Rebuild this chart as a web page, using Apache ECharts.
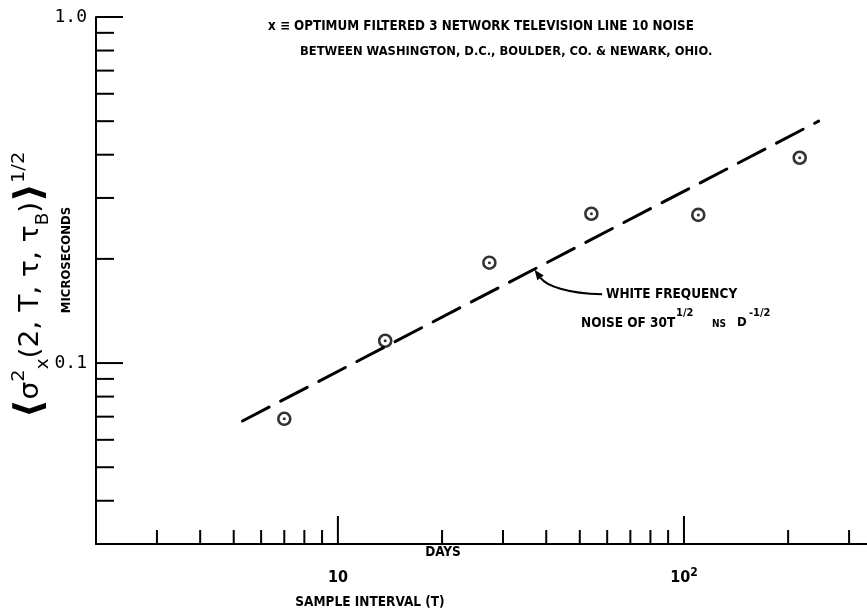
<!DOCTYPE html>
<html>
<head>
<meta charset="utf-8">
<title>Line 10 noise</title>
<script src="https://cdn.jsdelivr.net/npm/echarts@6/dist/echarts.min.js"></script>
</head>
<body style="margin:0;background:#fff;">
<div id="main" style="width:867px;height:613px;"></div>
<script>
// values (T in days, sigma in microseconds)
var measured = [[7.0, 0.069], [13.7, 0.116], [27.4, 0.195], [54, 0.270], [110, 0.268], [216, 0.392]];
var whiteNoise = [[5.3, 0.068], [245, 0.50]];

var X_MIN = 2, X_MAX = 338;
var Y_MIN = 0.03, Y_MAX = 1.0;

var xTicks = [3, 4, 5, 6, 7, 8, 9, 10, 20, 30, 40, 50, 60, 70, 80, 90, 100, 200, 300];
var xMajor = [10, 100];
var yTicks = [0.04, 0.05, 0.06, 0.07, 0.08, 0.09, 0.1, 0.2, 0.3, 0.4, 0.5, 0.6, 0.7, 0.8, 0.9, 1.0];
var yMajor = [0.1, 1.0];

// annotation anchors (data coords): arrow tip on the line, arrow tail at the text
var arrowTip = [37, 0.186];
var arrowTail = [58, 0.158];

var FONT = "'DejaVu Sans Condensed', 'Liberation Sans Narrow', 'DejaVu Sans', sans-serif";

var chart = echarts.init(document.getElementById('main'));

function near(v, list) {
    for (var i = 0; i < list.length; i++) {
        if (Math.abs(v - list[i]) / list[i] < 1e-6) return true;
    }
    return false;
}

var option = {
    animation: false,
    backgroundColor: '#fff',
    grid: { left: 96, right: 0, top: 17, bottom: 69 },
    xAxis: {
        type: 'log', logBase: 10, min: X_MIN, max: X_MAX,
        axisLine: { lineStyle: { color: '#000', width: 2 } },
        axisTick: { show: false },
        splitLine: { show: false },
        axisLabel: {
            margin: 23, color: '#000', showMinLabel: false, showMaxLabel: false,
            formatter: function (v) {
                if (near(v, [10])) return '{n|10}';
                if (near(v, [100])) return '{n|10}{s|2}';
                return '';
            },
            rich: {
                n: { fontFamily: FONT, fontWeight: 'bold', fontSize: 16, color: '#000', lineHeight: 22 },
                s: { fontFamily: FONT, fontWeight: 'bold', fontSize: 12, color: '#000', verticalAlign: 'top', lineHeight: 22 }
            }
        }
    },
    yAxis: {
        type: 'log', logBase: 10, min: Y_MIN, max: Y_MAX,
        axisLine: { lineStyle: { color: '#000', width: 2 } },
        axisTick: { show: false },
        splitLine: { show: false },
        axisLabel: {
            margin: 9, color: '#000', fontFamily: "'DejaVu Sans Mono', monospace", fontSize: 18,
            showMinLabel: true, showMaxLabel: true,
            formatter: function (v) {
                if (near(v, [1])) return '1.0';
                if (near(v, [0.1])) return '0.1';
                return '';
            }
        }
    },
    series: [
        {
            type: 'custom', clip: false, silent: true,
            data: xTicks.map(function (t) { return [t, Y_MIN]; }),
            renderItem: function (params, api) {
                var v = api.value(0);
                var p = api.coord([v, api.value(1)]);
                var len = near(v, xMajor) ? 28 : 14;
                return { type: 'line', shape: { x1: p[0], y1: p[1], x2: p[0], y2: p[1] - len },
                         style: { stroke: '#000', lineWidth: 2 } };
            }
        },
        {
            type: 'custom', clip: false, silent: true,
            data: yTicks.map(function (t) { return [X_MIN, t]; }),
            renderItem: function (params, api) {
                var v = api.value(1);
                var p = api.coord([api.value(0), v]);
                var len = near(v, yMajor) ? 27 : 18;
                return { type: 'line', shape: { x1: p[0], y1: p[1], x2: p[0] + len, y2: p[1] },
                         style: { stroke: '#000', lineWidth: 2 } };
            }
        },
        {
            type: 'line', data: whiteNoise, showSymbol: false, silent: true,
            lineStyle: { color: '#000', width: 3, type: [30, 13], cap: 'round' }
        },
        {
            type: 'scatter', data: measured, symbol: 'circle', symbolSize: 12,
            itemStyle: { color: '#fff', borderColor: '#000', borderWidth: 2.6 }
        },
        {
            type: 'scatter', data: measured, symbol: 'circle', symbolSize: 3,
            itemStyle: { color: '#000' }
        }
    ]
};
chart.setOption(option);

// annotation arrow, placed through the grid's own scales
var tip = chart.convertToPixel({ gridIndex: 0 }, arrowTip);
var tail = chart.convertToPixel({ gridIndex: 0 }, arrowTail);
var c1 = [tail[0] - 35, tail[1] - 1];
var c2 = [tip[0] + 12, tip[1] + 16];
var dx = tip[0] - c2[0], dy = tip[1] - c2[1];
var dl = Math.sqrt(dx * dx + dy * dy); dx /= dl; dy /= dl;
var base = [tip[0] - dx * 10, tip[1] - dy * 10];

function txt(x, y, text, size, extra) {
    var el = {
        type: 'text', x: x, y: y, silent: true,
        style: { text: text, fill: '#000', font: 'bold ' + size + 'px ' + FONT, align: 'left', verticalAlign: 'middle' }
    };
    if (extra) for (var k in extra) el.style[k] = extra[k];
    return el;
}

chart.setOption({
    graphic: [
        txt(268, 27, 'x \u2261 OPTIMUM FILTERED 3 NETWORK TELEVISION LINE 10 NOISE', 13.3),
        txt(300, 52, 'BETWEEN WASHINGTON, D.C., BOULDER, CO. & NEWARK, OHIO.', 12.8),
        txt(443, 552, 'DAYS', 13.5, { align: 'center' }),
        txt(370, 602, 'SAMPLE INTERVAL (T)', 13.5, { align: 'center' }),
        txt(606, 294, 'WHITE FREQUENCY', 13.5),
        txt(581, 323, 'NOISE OF 30T', 13.5),
        txt(676, 313, '1/2', 11),
        txt(712, 324, 'NS', 10),
        txt(737, 323, 'D', 13),
        txt(749, 313, '-1/2', 11),
        {
            type: 'text', x: 67, y: 260, rotation: Math.PI / 2, silent: true,
            style: { text: 'MICROSECONDS', fill: '#000', font: 'bold 13px ' + FONT, align: 'center', verticalAlign: 'middle' }
        },
        {
            type: 'text', x: 31, y: 285, rotation: Math.PI / 2, scaleX: 1.2, silent: true,
            style: {
                text: '{g|\u27e8}{m|\u03c3}{sp|2}{sb|x}{m|(2, T, \u03c4, \u03c4}{sb|B}{m|)}{g|\u27e9}{sp|1/2}',
                align: 'center', verticalAlign: 'middle',
                rich: {
                    g: { fontFamily: FONT, fontWeight: 'bold', fontSize: 38, fill: '#000', lineHeight: 42 },
                    m: { fontFamily: FONT, fontSize: 26, fill: '#000', lineHeight: 42 },
                    sp: { fontFamily: FONT, fontSize: 18, fill: '#000', lineHeight: 42, verticalAlign: 'top' },
                    sb: { fontFamily: FONT, fontSize: 17, fill: '#000', lineHeight: 42, verticalAlign: 'bottom' }
                }
            }
        },
        {
            type: 'bezierCurve', silent: true,
            shape: { x1: tail[0], y1: tail[1], cpx1: c1[0], cpy1: c1[1], cpx2: c2[0], cpy2: c2[1], x2: base[0], y2: base[1] },
            style: { stroke: '#000', lineWidth: 2, fill: null }
        },
        {
            type: 'polygon', silent: true,
            shape: { points: [tip, [base[0] - dy * 4, base[1] + dx * 4], [base[0] + dy * 4, base[1] - dx * 4]] },
            style: { fill: '#000' }
        }
    ]
});
</script>
</body>
</html>
